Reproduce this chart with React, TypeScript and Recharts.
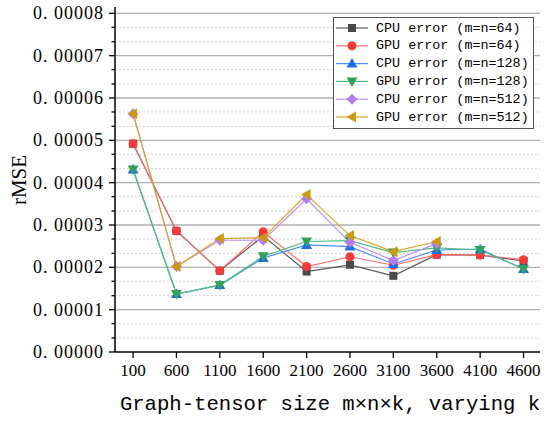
import React from "react";
import { LineChart, Line, XAxis, YAxis, CartesianGrid, ReferenceLine, Legend } from "recharts";

const sizes = [100, 600, 1100, 1600, 2100, 2600, 3100, 3600, 4100, 4600];
const cpu64 = [4.92, 2.86, 1.92, 2.74, 1.9, 2.06, 1.8, 2.3, 2.29, 2.15];
const gpu64 = [4.92, 2.86, 1.92, 2.84, 2.02, 2.25, 2.05, 2.3, 2.29, 2.18];
const cpu128 = [4.31, 1.37, 1.58, 2.22, 2.53, 2.49, 2.08, 2.41, 2.43, 1.96];
const gpu128 = [4.31, 1.37, 1.58, 2.26, 2.61, 2.63, 2.35, 2.46, 2.41, 1.96];
const cpu512 = [5.63, 2.02, 2.64, 2.64, 3.62, 2.59, 2.16, 2.56, null, null];
const gpu512 = [5.63, 2.02, 2.68, 2.7, 3.72, 2.75, 2.37, 2.61, null, null];

const majorTicks = [0, 0.00001, 0.00002, 0.00003, 0.00004, 0.00005, 0.00006, 0.00007, 0.00008];
const minorTicks = [
  0.0000033, 0.0000067, 0.0000133, 0.0000167, 0.0000233, 0.0000267, 0.0000333, 0.0000367,
  0.0000433, 0.0000467, 0.0000533, 0.0000567, 0.0000633, 0.0000667, 0.0000733, 0.0000767,
];
const yLabels = ["0. 00000", "0. 00001", "0. 00002", "0. 00003", "0. 00004", "0. 00005", "0. 00006", "0. 00007", "0. 00008"];

const seriesDefs = [
  { key: "cpu64", name: "CPU error (m=n=64)", values: cpu64, marker: "#4a4a4a", line: "#5a5a5a", shape: "square" },
  { key: "gpu64", name: "GPU error (m=n=64)", values: gpu64, marker: "#f53a3a", line: "#ff6b6b", shape: "circle" },
  { key: "cpu128", name: "CPU error (m=n=128)", values: cpu128, marker: "#1e6fe6", line: "#4b8ff0", shape: "up" },
  { key: "gpu128", name: "GPU error (m=n=128)", values: gpu128, marker: "#2fa45c", line: "#52bd7e", shape: "down" },
  { key: "cpu512", name: "CPU error (m=n=512)", values: cpu512, marker: "#b27ff0", line: "#bb8ef2", shape: "diamond" },
  { key: "gpu512", name: "GPU error (m=n=512)", values: gpu512, marker: "#cf9a08", line: "#d6a52a", shape: "left" },
];

const data = sizes.map((s, i) => {
  const row: any = { size: s };
  seriesDefs.forEach((d) => {
    const v = d.values[i];
    row[d.key] = v == null ? null : v * 1e-5;
  });
  return row;
});

function Marker({ shape, cx, cy, color }: { shape: string; cx: number; cy: number; color: string }) {
  const r = 4.5;
  switch (shape) {
    case "square":
      return <rect x={cx - 4} y={cy - 4} width={8} height={8} fill={color} />;
    case "circle":
      return <circle cx={cx} cy={cy} r={r} fill={color} />;
    case "up":
      return <polygon points={`${cx},${cy - 5.5} ${cx + 5.5},${cy + 4} ${cx - 5.5},${cy + 4}`} fill={color} />;
    case "down":
      return <polygon points={`${cx},${cy + 5.5} ${cx + 5.5},${cy - 4} ${cx - 5.5},${cy - 4}`} fill={color} />;
    case "diamond":
      return <polygon points={`${cx},${cy - 5.5} ${cx + 5.5},${cy} ${cx},${cy + 5.5} ${cx - 5.5},${cy}`} fill={color} />;
    case "left":
      return <polygon points={`${cx - 5.5},${cy} ${cx + 4},${cy - 5.5} ${cx + 4},${cy + 5.5}`} fill={color} />;
  }
  return null;
}

const makeDot = (shape: string, color: string) => (props: any) => {
  const { cx, cy, index } = props;
  if (cx == null || cy == null || props.value == null) return <g key={`d${index}`} />;
  return (
    <g key={`d${index}`}>
      <Marker shape={shape} cx={cx} cy={cy} color={color} />
    </g>
  );
};

const YTick = (props: any) => {
  const { x, y, payload } = props;
  const v = payload.value;
  const mi = majorTicks.findIndex((t) => Math.abs(t - v) < 1e-9);
  const major = mi >= 0;
  return (
    <g>
      <line x1={x - (major ? 6 : 3.5)} x2={x} y1={y} y2={y} stroke="#000" strokeWidth={1.3} />
      {major && (
        <text x={x - 11} y={y} textAnchor="end" dominantBaseline="central" fontFamily="Liberation Serif" fontSize={18} letterSpacing={1} fill="#000">
          {yLabels[mi]}
        </text>
      )}
    </g>
  );
};

const LegendBox = () => (
  <svg width={201} height={112} style={{ display: "block" }}>
    <rect x={0.5} y={0.5} width={200} height={111} fill="#fff" stroke="#555" strokeWidth={1} />
    {seriesDefs.map((d, i) => {
      const cy = 11 + i * 17.8;
      return (
        <g key={d.key}>
          <line x1={3} x2={35} y1={cy} y2={cy} stroke={d.line} strokeWidth={1.2} />
          <Marker shape={d.shape} cx={19} cy={cy} color={d.marker} />
          <text x={43} y={cy} dominantBaseline="central" fontFamily="Liberation Mono" fontSize={13.4} fill="#000">
            {d.name}
          </text>
        </g>
      );
    })}
  </svg>
);

export default function App() {
  return (
    <div style={{ position: "absolute", left: 0, top: 0, width: 550, height: 423, background: "#fff" }}>
      <LineChart width={550} height={423} data={data} margin={{ top: 7, right: 10, left: 0, bottom: 0 }}>
        <CartesianGrid horizontal={true} vertical={false} horizontalValues={majorTicks.slice(1)} stroke="#b0b0b0" strokeWidth={1.3} yAxisId="main" />
        {minorTicks.map((v) => (
          <ReferenceLine key={v} yAxisId="main" y={v} stroke="#d0d0d0" strokeDasharray="2 2" strokeWidth={1} />
        ))}
        <XAxis
          dataKey="size"
          type="number"
          domain={[-108, 4790]}
          ticks={sizes}
          interval={0}
          height={71}
          tickSize={6}
          tickMargin={6}
          axisLine={{ stroke: "#000", strokeWidth: 1.5 }}
          tickLine={{ stroke: "#000", strokeWidth: 1.3 }}
          tick={{ fill: "#000", fontFamily: "Liberation Serif", fontSize: 17 }}
          label={(p: any) => {
            const vb = p.viewBox || {};
            return (
              <text x={330} y={(vb.y ?? 352) + 58} textAnchor="middle" fontFamily="Liberation Mono" fontSize={20.6} fill="#000">
                Graph-tensor size m×n×k, varying k
              </text>
            );
          }}
        />
        <YAxis
          yAxisId="main"
          orientation="left"
          width={115}
          domain={[0, 0.0000815]}
          type="number"
          ticks={[...majorTicks, ...minorTicks].sort((a, b) => a - b)}
          interval={0}
          tickSize={0}
          tickMargin={0}
          tickLine={false}
          axisLine={{ stroke: "#000", strokeWidth: 1.5 }}
          tick={<YTick />}
          allowDataOverflow={true}
          label={() => (
            <text x={19} y={180} transform="rotate(-90 19 180)" textAnchor="middle" dominantBaseline="central" fontFamily="Liberation Serif" fontSize={21} fill="#000">
              rMSE
            </text>
          )}
        />
        <YAxis yAxisId="right" orientation="right" width={0} domain={[0, 0.0000815]} tick={false} tickLine={false} axisLine={{ stroke: "#000", strokeWidth: 1.5 }} />
        <Legend layout="horizontal" verticalAlign="middle" align="center" wrapperStyle={{ left: 333, top: 17, width: 201, height: 112 }} content={() => <LegendBox />} />
        {seriesDefs.map((d) => (
          <Line
            key={d.key}
            yAxisId="main"
            type="linear"
            dataKey={d.key}
            name={d.name}
            stroke={d.line}
            strokeWidth={1.2}
            dot={makeDot(d.shape, d.marker)}
            activeDot={false}
            connectNulls={false}
            isAnimationActive={false}
          />
        ))}
      </LineChart>
    </div>
  );
}
